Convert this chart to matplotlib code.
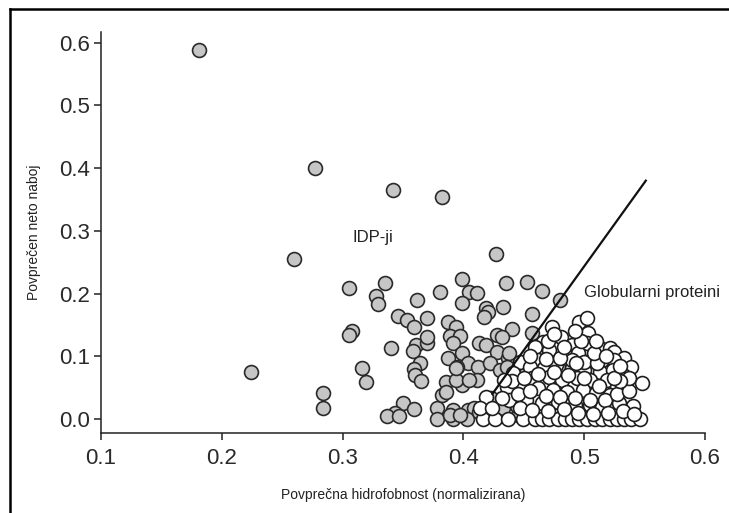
import matplotlib
matplotlib.use("Agg")
import matplotlib.pyplot as plt
from matplotlib.lines import Line2D

plt.rcParams['font.family'] = ['Liberation Sans', 'DejaVu Sans']

# IDP (gray) points
idp = [
    (0.181, 0.588), (0.277, 0.400), (0.342, 0.365), (0.382, 0.354),
    (0.260, 0.255), (0.224, 0.075), (0.284, 0.041), (0.284, 0.018),
    (0.427, 0.263), (0.305, 0.209), (0.335, 0.217), (0.328, 0.196),
    (0.329, 0.183), (0.362, 0.190), (0.381, 0.203), (0.399, 0.223),
    (0.405, 0.203), (0.411, 0.201), (0.399, 0.185), (0.419, 0.177),
    (0.435, 0.217), (0.453, 0.218), (0.465, 0.204), (0.480, 0.190),
    (0.346, 0.164), (0.353, 0.158), (0.359, 0.147), (0.370, 0.161),
    (0.308, 0.140), (0.305, 0.134), (0.340, 0.113), (0.361, 0.118),
    (0.358, 0.108), (0.370, 0.121), (0.316, 0.081), (0.319, 0.059),
    (0.364, 0.089), (0.359, 0.080), (0.360, 0.070), (0.365, 0.061),
    (0.350, 0.026), (0.343, 0.010), (0.337, 0.005), (0.347, 0.005),
    (0.359, 0.016), (0.378, 0.018), (0.378, 0.000), (0.387, 0.155),
    (0.394, 0.147), (0.420, 0.171), (0.417, 0.163), (0.433, 0.179),
    (0.457, 0.167), (0.440, 0.143), (0.457, 0.137), (0.428, 0.134),
    (0.389, 0.132), (0.397, 0.132), (0.370, 0.131), (0.391, 0.121),
    (0.387, 0.097), (0.399, 0.105), (0.404, 0.089), (0.395, 0.083),
    (0.386, 0.059), (0.399, 0.054), (0.412, 0.083), (0.411, 0.062),
    (0.382, 0.038), (0.413, 0.121), (0.419, 0.118), (0.428, 0.107),
    (0.422, 0.089), (0.437, 0.097), (0.432, 0.131), (0.430, 0.078),
    (0.391, 0.014), (0.404, 0.014), (0.409, 0.018), (0.391, 0.000),
    (0.403, 0.000), (0.413, 0.011), (0.423, 0.033), (0.433, 0.018),
    (0.438, 0.105), (0.436, 0.083), (0.394, 0.062), (0.405, 0.062),
    (0.386, 0.043), (0.389, 0.006), (0.397, 0.006), (0.394, 0.081),
    (0.452, 0.073), (0.445, 0.006), (0.444, 0.020),
]
idp_x = [p[0] for p in idp]
idp_y = [p[1] for p in idp]

# Globular (white) points
glob = [
    (0.496, 0.155), (0.502, 0.161), (0.473, 0.147), (0.503, 0.137),
    (0.481, 0.131), (0.466, 0.123), (0.459, 0.115), (0.490, 0.118),
    (0.502, 0.121), (0.513, 0.113), (0.521, 0.113), (0.525, 0.107),
    (0.533, 0.097), (0.539, 0.083), (0.548, 0.057), (0.471, 0.110),
    (0.484, 0.105), (0.495, 0.105), (0.506, 0.094), (0.515, 0.094),
    (0.525, 0.094), (0.462, 0.094), (0.447, 0.091), (0.455, 0.083),
    (0.467, 0.081), (0.478, 0.083), (0.490, 0.081), (0.500, 0.078),
    (0.513, 0.075), (0.524, 0.078), (0.532, 0.070), (0.441, 0.073),
    (0.457, 0.065), (0.471, 0.067), (0.482, 0.062), (0.494, 0.065),
    (0.505, 0.062), (0.519, 0.062), (0.527, 0.051), (0.436, 0.051),
    (0.448, 0.051), (0.462, 0.049), (0.474, 0.046), (0.486, 0.043),
    (0.499, 0.046), (0.510, 0.041), (0.521, 0.038), (0.529, 0.026),
    (0.438, 0.030), (0.452, 0.030), (0.465, 0.026), (0.478, 0.027),
    (0.492, 0.022), (0.505, 0.022), (0.515, 0.019),
    (0.416, 0.000), (0.426, 0.000), (0.437, 0.000), (0.449, 0.000),
    (0.459, 0.000), (0.465, 0.000), (0.471, 0.000), (0.478, 0.000),
    (0.484, 0.000), (0.490, 0.000), (0.496, 0.000), (0.502, 0.000),
    (0.509, 0.000), (0.515, 0.000), (0.521, 0.000), (0.527, 0.000),
    (0.533, 0.000), (0.539, 0.000), (0.546, 0.000),
    (0.477, 0.086), (0.490, 0.094), (0.500, 0.091), (0.511, 0.089),
    (0.445, 0.040), (0.455, 0.045), (0.468, 0.036), (0.480, 0.035),
    (0.492, 0.033), (0.505, 0.030), (0.517, 0.030), (0.527, 0.040),
    (0.537, 0.045), (0.540, 0.020), (0.537, 0.065), (0.530, 0.060),
    (0.447, 0.018), (0.457, 0.015), (0.470, 0.012), (0.483, 0.016),
    (0.495, 0.010), (0.507, 0.008), (0.520, 0.010), (0.532, 0.012),
    (0.541, 0.008), (0.440, 0.060), (0.450, 0.066), (0.462, 0.072),
    (0.475, 0.075), (0.487, 0.070), (0.500, 0.065), (0.512, 0.052),
    (0.525, 0.065), (0.455, 0.100), (0.468, 0.095), (0.480, 0.098),
    (0.493, 0.090), (0.508, 0.105), (0.518, 0.100), (0.530, 0.085),
    (0.470, 0.125), (0.483, 0.115), (0.497, 0.125), (0.510, 0.125),
    (0.492, 0.140), (0.475, 0.135), (0.419, 0.035), (0.432, 0.033),
    (0.414, 0.018), (0.424, 0.018), (0.434, 0.062),
]
glob_x = [p[0] for p in glob]
glob_y = [p[1] for p in glob]

# Boundary line
boundary_x = [0.424, 0.551]
boundary_y = [0.040, 0.380]

x_ticks = [0.1, 0.2, 0.3, 0.4, 0.5, 0.6]
y_ticks = [0.0, 0.1, 0.2, 0.3, 0.4, 0.5, 0.6]

W, H = 729, 513
fig = plt.figure(figsize=(W / 100, H / 100), dpi=100)
ax = fig.add_axes([101 / W, (H - 433) / H, (705 - 101) / W, (433 - 32) / H])

ms = 100
ax.scatter(idp_x, idp_y, s=ms, facecolor='#c6c6c6', edgecolor='#2a2a2a',
           linewidths=1.2, zorder=2)
ax.scatter(glob_x, glob_y, s=ms, facecolor='white', edgecolor='#1e1e1e',
           linewidths=1.2, zorder=3)
ax.plot(boundary_x, boundary_y, color='#111111', lw=1.6, zorder=4)

ax.set_xlim(0.1, 0.6)
ax.set_ylim(-0.0223, 0.617)
ax.set_xticks(x_ticks)
ax.set_yticks(y_ticks)
ax.set_xticklabels([f"{v:.1f}" for v in x_ticks])
ax.set_yticklabels([f"{v:.1f}" for v in y_ticks])
for s in ['top', 'right']:
    ax.spines[s].set_visible(False)
for s in ['left', 'bottom']:
    ax.spines[s].set_linewidth(1.1)
    ax.spines[s].set_color('#222222')
ax.tick_params(axis='both', direction='out', length=5, width=1.1,
               colors='#222222', labelsize=16, labelcolor='#2a2a2a')
ax.tick_params(axis='x', pad=6)
ax.tick_params(axis='y', pad=3)

ax.set_xlabel('Povprečna hidrofobnost (normalizirana)', fontsize=10,
              color='#222222')
ax.xaxis.set_label_coords(0.5, -0.138)
ax.set_ylabel('Povprečen neto naboj', fontsize=10, color='#222222')
ax.yaxis.set_label_coords(-0.100, 0.5)

ax.text(0.308, 0.290, 'IDP-ji', fontsize=12, va='center', ha='left',
        color='#222222')
ax.text(0.500, 0.201, 'Globularni proteini', fontsize=12, va='center',
        ha='left', color='#222222')

# image frame (left and top edges)
fig.add_artist(Line2D([10 / W, 10 / W], [0, 1 - 9 / H], transform=fig.transFigure,
                      color='black', lw=1.8))
fig.add_artist(Line2D([10 / W, 1], [1 - 9 / H, 1 - 9 / H], transform=fig.transFigure,
                      color='black', lw=1.8))

fig.savefig('out.png', dpi=100)
